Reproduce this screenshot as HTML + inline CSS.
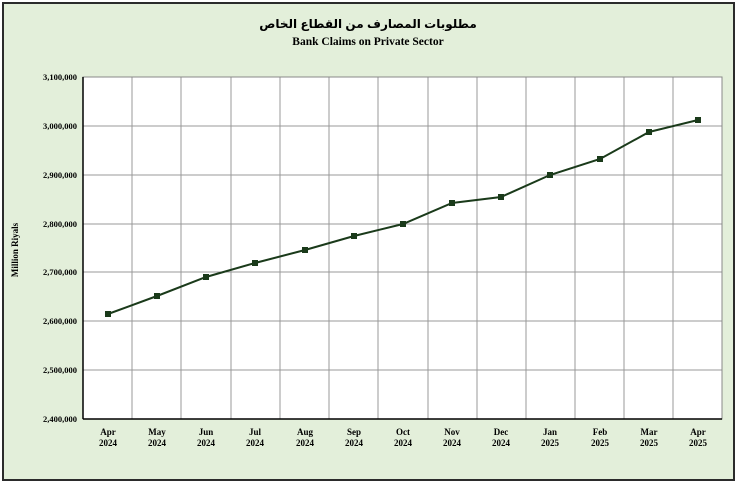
<!DOCTYPE html>
<html><head><meta charset="utf-8"><style>body{margin:0;background:#fff}</style></head><body>
<svg width="737" height="483" xmlns="http://www.w3.org/2000/svg" font-family="Liberation Serif, serif" font-weight="bold">
<rect x="0" y="0" width="737" height="483" fill="#fff"/>
<rect x="3" y="3" width="731" height="477" fill="#e3efda" stroke="#2b2b2b" stroke-width="2"/>
<text x="368" y="28" text-anchor="middle" font-size="12" font-family="Liberation Sans, DejaVu Sans, sans-serif">مطلوبات المصارف من القطاع الخاص</text>
<text x="368" y="45" text-anchor="middle" font-size="11.5">Bank Claims on Private Sector</text>
<rect x="83" y="77" width="639" height="342" fill="#fff"/>
<g stroke="#999" stroke-width="1">
<line x1="83" y1="126" x2="722" y2="126"/><line x1="83" y1="175" x2="722" y2="175"/><line x1="83" y1="224" x2="722" y2="224"/><line x1="83" y1="272" x2="722" y2="272"/><line x1="83" y1="321" x2="722" y2="321"/><line x1="83" y1="370" x2="722" y2="370"/>
<line x1="132" y1="77" x2="132" y2="419"/><line x1="181" y1="77" x2="181" y2="419"/><line x1="231" y1="77" x2="231" y2="419"/><line x1="280" y1="77" x2="280" y2="419"/><line x1="329" y1="77" x2="329" y2="419"/><line x1="378" y1="77" x2="378" y2="419"/><line x1="428" y1="77" x2="428" y2="419"/><line x1="477" y1="77" x2="477" y2="419"/><line x1="526" y1="77" x2="526" y2="419"/><line x1="575" y1="77" x2="575" y2="419"/><line x1="624" y1="77" x2="624" y2="419"/><line x1="673" y1="77" x2="673" y2="419"/>
</g>
<rect x="83" y="77" width="639" height="342" fill="none" stroke="#888" stroke-width="1"/>
<line x1="83" y1="77" x2="83" y2="419" stroke="#000" stroke-width="1.5"/>
<line x1="83" y1="419" x2="722" y2="419" stroke="#000" stroke-width="1.5"/>
<g font-size="8.5" text-anchor="end">
<text x="77" y="80">3,100,000</text><text x="77" y="129">3,000,000</text><text x="77" y="178">2,900,000</text><text x="77" y="227">2,800,000</text><text x="77" y="275">2,700,000</text><text x="77" y="324">2,600,000</text><text x="77" y="373">2,500,000</text><text x="77" y="422">2,400,000</text>
</g>
<text transform="translate(18,250) rotate(-90)" text-anchor="middle" font-size="9">Million Riyals</text>
<g font-size="9" text-anchor="middle">
<text x="108" y="435">Apr</text><text x="108" y="446">2024</text>
<text x="157" y="435">May</text><text x="157" y="446">2024</text>
<text x="206" y="435">Jun</text><text x="206" y="446">2024</text>
<text x="255" y="435">Jul</text><text x="255" y="446">2024</text>
<text x="305" y="435">Aug</text><text x="305" y="446">2024</text>
<text x="354" y="435">Sep</text><text x="354" y="446">2024</text>
<text x="403" y="435">Oct</text><text x="403" y="446">2024</text>
<text x="452" y="435">Nov</text><text x="452" y="446">2024</text>
<text x="501" y="435">Dec</text><text x="501" y="446">2024</text>
<text x="550" y="435">Jan</text><text x="550" y="446">2025</text>
<text x="600" y="435">Feb</text><text x="600" y="446">2025</text>
<text x="649" y="435">Mar</text><text x="649" y="446">2025</text>
<text x="698" y="435">Apr</text><text x="698" y="446">2025</text>
</g>
<polyline fill="none" stroke="#1a3a1a" stroke-width="2" points="108,314 157,296 206,277 255,263 305,250 354,236 403,224 452,203 501,197 550,175 600,159 649,132 698,120"/>
<g fill="#1a3a1a">
<rect x="105" y="311" width="6" height="6"/><rect x="154" y="293" width="6" height="6"/><rect x="203" y="274" width="6" height="6"/><rect x="252" y="260" width="6" height="6"/><rect x="302" y="247" width="6" height="6"/><rect x="351" y="233" width="6" height="6"/><rect x="400" y="221" width="6" height="6"/><rect x="449" y="200" width="6" height="6"/><rect x="498" y="194" width="6" height="6"/><rect x="547" y="172" width="6" height="6"/><rect x="597" y="156" width="6" height="6"/><rect x="646" y="129" width="6" height="6"/><rect x="695" y="117" width="6" height="6"/>
</g>
</svg>
</body></html>
